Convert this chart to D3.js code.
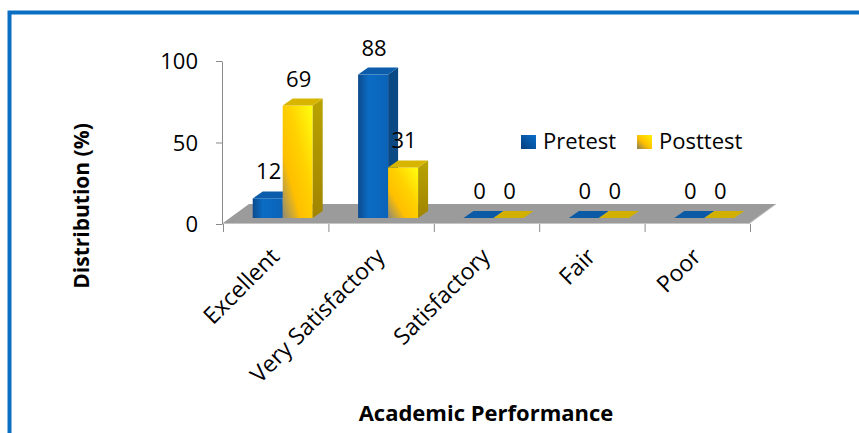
<!DOCTYPE html>
<html>
<head>
<meta charset="utf-8">
<script src="https://cdn.jsdelivr.net/npm/d3@7"></script>
<style>
  html, body { margin: 0; padding: 0; background: #fff; }
  svg { display: block; font-family: "Open Sans", sans-serif; }
</style>
</head>
<body>
<svg id="chart" width="859" height="433"></svg>
<script>
const categories = ["Excellent", "Very Satisfactory", "Satisfactory", "Fair", "Poor"];
const seriesNames = ["Pretest", "Posttest"];
const pretest = [12, 88, 0, 0, 0];
const posttest = [69, 31, 0, 0, 0];
const yTicks = [0, 50, 100];
const xTitle = "Academic Performance";
const yTitle = "Distribution (%)";

const svg = d3.select("#chart");
const W = 859, H = 433;

// frame
svg.append("rect").attr("x", 0).attr("y", 0).attr("width", W).attr("height", H).attr("fill", "#fff");
svg.append("rect").attr("x", 9.5).attr("y", 12.5).attr("width", 900).attr("height", 500)
  .attr("fill", "none").attr("stroke", "#0a6fc2").attr("stroke-width", 4);

const x0 = d3.scaleBand().domain(categories).range([223, 750]);
const x1 = d3.scaleBand().domain(seriesNames).range([0, 60]);
const y = d3.scaleLinear().domain([0, 100]).range([224, 61]);

const floorD = { dx: 26, dy: -19 };
const barOff = { dx: 7, dy: -6 };
const barD = { dx: 10, dy: -7 };

const defs = svg.append("defs");
function lin(id, x1_, y1_, x2_, y2_, stops) {
  const g = defs.append("linearGradient").attr("id", id)
    .attr("x1", x1_).attr("y1", y1_).attr("x2", x2_).attr("y2", y2_);
  stops.forEach(s => g.append("stop").attr("offset", s[0]).attr("stop-color", s[1]));
}
lin("preFront", 0, 0, 1, 0, [[0, "#0c4b8d"], [0.35, "#0b6cc5"], [1, "#0a63b8"]]);
lin("postFront", 0, 1, 1, 0, [[0, "#8e8a78"], [0.3, "#ffbf00"], [0.6, "#ffd200"], [1, "#ffff10"]]);
lin("postSide", 0, 0, 0, 1, [[0, "#b9a300"], [1, "#a08400"]]);
lin("preLeg", 0, 1, 1, 0, [[0, "#053d7c"], [1, "#0a6fcc"]]);
lin("postLeg", 0, 1, 1, 0, [[0, "#8a7c58"], [0.45, "#ffc000"], [1, "#fff000"]]);

const fills = {
  Pretest: { front: "url(#preFront)", side: "#0a4984", top: "#0b5caa" },
  Posttest: { front: "url(#postFront)", side: "url(#postSide)", top: "#d8b600" }
};

// floor
const fx0 = x0.range()[0], fx1 = x0.range()[1], fy = y(0) - 1;
svg.append("polygon")
  .attr("points", [[fx0, fy], [fx1, fy], [fx1 + floorD.dx, fy + floorD.dy], [fx0 + floorD.dx, fy + floorD.dy]].map(p => p.join(",")).join(" "))
  .attr("fill", "#9b9b9b");
svg.append("line").attr("x1", fx0).attr("x2", fx1).attr("y1", fy + 0.5).attr("y2", fy + 0.5)
  .attr("stroke", "#c4c4c4").attr("stroke-width", 1);
svg.append("line").attr("x1", fx1).attr("x2", fx1 + floorD.dx).attr("y1", fy).attr("y2", fy + floorD.dy)
  .attr("stroke", "#c4c4c4").attr("stroke-width", 1);

// y axis
const yAxis = svg.append("g").attr("transform", "translate(222,0)")
  .call(d3.axisLeft(y).tickValues(yTicks).tickSize(6).tickSizeOuter(0).tickPadding(18));
yAxis.select(".domain").attr("stroke", "#8a8a8a");
yAxis.selectAll(".tick line").attr("stroke", "#8a8a8a");
yAxis.selectAll(".tick text").attr("font-family", "Open Sans").attr("font-size", 22).attr("fill", "#000").attr("dy", "0.36em");

// x axis ticks at category boundaries
const bounds = categories.map(c => x0(c)).concat([x0.range()[1]]);
svg.append("g").selectAll("line").data(bounds).join("line")
  .attr("x1", d => d + 0.5).attr("x2", d => d + 0.5)
  .attr("y1", y(0)).attr("y2", y(0) + 8)
  .attr("stroke", "#8a8a8a");

// category labels
svg.append("g").selectAll("text").data(categories).join("text")
  .attr("transform", d => `translate(${x0(d) + x0.bandwidth() / 2 + 5},${y(0) + 34}) rotate(-45)`)
  .attr("text-anchor", "end")
  .attr("font-size", 23)
  .attr("fill", "#000")
  .text(d => d);

// bars
const data = [];
categories.forEach((c, i) => {
  data.push({ c, s: "Pretest", v: pretest[i] });
  data.push({ c, s: "Posttest", v: posttest[i] });
});
const gap = (x0.bandwidth() - x1.range()[1]) / 2;
const bars = svg.append("g").selectAll("g").data(data).join("g");
bars.each(function (d) {
  const g = d3.select(this);
  const bx = x0(d.c) + gap + x1(d.s) + barOff.dx;
  const bw = x1.bandwidth();
  const base = y(0) + barOff.dy;
  const top = y(d.v) + barOff.dy;
  const f = fills[d.s];
  if (d.v > 0) {
    g.append("rect").attr("x", bx).attr("y", top).attr("width", bw).attr("height", base - top).attr("fill", f.front);
    g.append("polygon").attr("points", [[bx + bw, top], [bx + bw + barD.dx, top + barD.dy], [bx + bw + barD.dx, base + barD.dy], [bx + bw, base]].map(p => p.join(",")).join(" "))
      .attr("fill", f.side);
  }
  g.append("polygon").attr("points", [[bx, top], [bx + barD.dx, top + barD.dy], [bx + bw + barD.dx, top + barD.dy], [bx + bw, top]].map(p => p.join(",")).join(" "))
    .attr("fill", d.v > 0 ? f.top : (d.s === "Pretest" ? "#0b5aa6" : "#d2b000"));
  g.append("text")
    .attr("x", bx + bw / 2 + 1)
    .attr("y", top + barD.dy - 12)
    .attr("text-anchor", "middle")
    .attr("font-size", 22)
    .attr("fill", "#000")
    .text(d.v);
});

// legend
const legend = svg.append("g");
const legItems = [
  { name: "Pretest", fill: "url(#preLeg)", x: 521 },
  { name: "Posttest", fill: "url(#postLeg)", x: 637 }
];
legItems.forEach(it => {
  legend.append("rect").attr("x", it.x).attr("y", 135).attr("width", 15).attr("height", 14).attr("fill", it.fill);
  legend.append("text").attr("x", it.x + 22).attr("y", 149).attr("font-size", 22).attr("fill", "#000").text(it.name);
});

// axis titles
svg.append("text").attr("x", 486).attr("y", 421).attr("text-anchor", "middle")
  .attr("font-size", 22).attr("font-weight", "bold").attr("fill", "#000").text(xTitle);
svg.append("text").attr("transform", "translate(89,206) rotate(-90)").attr("text-anchor", "middle")
  .attr("font-size", 21).attr("font-weight", "bold").attr("fill", "#000").text(yTitle);
</script>
</body>
</html>
